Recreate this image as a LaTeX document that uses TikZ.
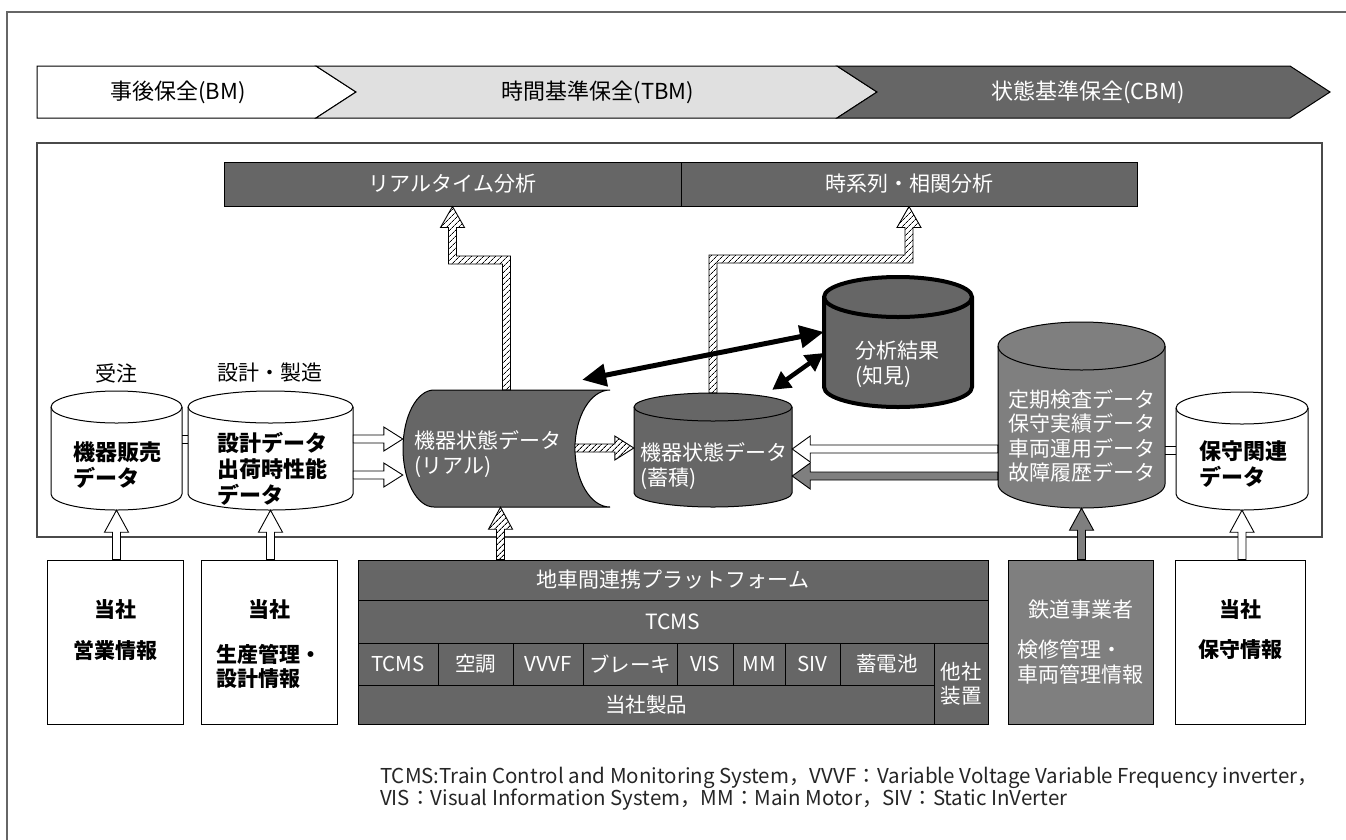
\documentclass[tikz,border=0pt]{standalone}
\usepackage{fontspec}
\setmainfont{Noto Sans CJK JP}
\usetikzlibrary{arrows.meta,patterns.meta,calc}
\definecolor{dk}{HTML}{666666}
\definecolor{md}{HTML}{7F7F7F}
\definecolor{lt}{HTML}{E0E0E0}
\definecolor{frm}{HTML}{4A4A4A}

% vertical cylinder: name, xl, xr, ytop, ybot, ry, style
\newcommand\vcyl[7]{%
  \pgfmathsetmacro\cylrx{(#3-#2)/2}%
  \path[#7] (#2,#4+#6) arc[start angle=180,end angle=0,x radius=\cylrx pt,y radius=#6 pt]
     -- (#3,#5-#6) arc[start angle=0,end angle=-180,x radius=\cylrx pt,y radius=#6 pt] -- cycle;
  \path[#7,fill=none] (#2,#4+#6) arc[start angle=180,end angle=360,x radius=\cylrx pt,y radius=#6 pt];
  \node[inner sep=0pt,minimum width={(#3-#2)*1pt},minimum height={(#5-#4)*1pt}] (#1) at ({(#2+#3)/2},{(#4+#5)/2}) {};
}
% rectangular cell: style, name, x1, y1, x2, y2, text
\newcommand\cell[7]{%
  \node[#1,inner sep=0pt,minimum width={(#5-#3)*1pt},minimum height={(#6-#4)*1pt}] (#2) at ({(#3+#5)/2},{(#4+#6)/2}) {#7};
}
% block arrow pointing up: style, from, tip
\newcommand\uarr[3]{%
  \path[#1] let \p1=(#2),\p2=(#3) in
   ({\x2-4pt},\y1) -- ({\x2-4pt},{\y2-22pt}) -- ({\x2-12pt},{\y2-22pt}) -- (\x2,\y2) -- ({\x2+12pt},{\y2-22pt}) -- ({\x2+4pt},{\y2-22pt}) -- ({\x2+4pt},\y1) -- cycle;
}
% block arrow pointing right at height y(px): style, from, tip, y
\newcommand\rarr[4]{%
  \path[#1] let \p1=(#2),\p2=(#3) in
   (\x1,{-#4pt+4pt}) -- ({\x2-19pt},{-#4pt+4pt}) -- ({\x2-19pt},{-#4pt+12pt}) -- (\x2,{-#4pt}) -- ({\x2-19pt},{-#4pt-12pt}) -- ({\x2-19pt},{-#4pt-4pt}) -- (\x1,{-#4pt-4pt}) -- cycle;
}
% block arrow pointing left
\newcommand\larr[4]{%
  \path[#1] let \p1=(#2),\p2=(#3) in
   (\x1,{-#4pt+4pt}) -- ({\x2+18pt},{-#4pt+4pt}) -- ({\x2+18pt},{-#4pt+13pt}) -- (\x2,{-#4pt}) -- ({\x2+18pt},{-#4pt-13pt}) -- ({\x2+18pt},{-#4pt-4pt}) -- (\x1,{-#4pt-4pt}) -- cycle;
}
% bent block arrow: up, sideways at y(px), up to tip: style, from, tip, y, sign
\newcommand\barr[5]{%
  \path[#1] let \p1=(#2),\p2=(#3) in
   ({\x1-(#5)*4pt},\y1) -- ({\x1-(#5)*4pt},{-#4pt+4pt}) -- ({\x2-(#5)*4pt},{-#4pt+4pt}) -- ({\x2-(#5)*4pt},{\y2-21pt})
   -- ({\x2-(#5)*12pt},{\y2-21pt}) -- (\x2,\y2) -- ({\x2+(#5)*12pt},{\y2-21pt}) -- ({\x2+(#5)*4pt},{\y2-21pt})
   -- ({\x2+(#5)*4pt},{-#4pt-4pt}) -- ({\x1+(#5)*4pt},{-#4pt-4pt}) -- ({\x1+(#5)*4pt},\y1) -- cycle;
}

\tikzset{
  ln/.style={draw=black,line width=1pt},
  dkf/.style={ln,fill=dk},
  mdf/.style={ln,fill=md},
  wf/.style={ln,fill=white},
  hatch/.style={draw=black,line width=0.9pt,preaction={fill=white},pattern={Lines[angle=45,distance=4pt,line width=0.85pt]}},
  warr/.style={draw=black,line width=0.9pt,fill=white},
  garr/.style={draw=black,line width=0.9pt,fill=md},
  wt/.style={text=white,inner sep=0pt},
  bt/.style={text=black,inner sep=0pt},
  f22/.style={font=\fontsize{22}{27}\selectfont},
  f22b/.style={font=\fontsize{22}{26}\selectfont\bfseries},
  f21/.style={font=\fontsize{21}{24.5}\selectfont},
  f21b/.style={font=\fontsize{21}{24}\selectfont\bfseries},
  f20/.style={font=\fontsize{20.5}{24}\selectfont},
  fn/.style={font=\fontsize{20.5}{22}\selectfont,text=black!85,inner sep=0pt,anchor=west},
  dbl/.style={line width=5pt,{Triangle[length=24pt,width=22pt]}-{Triangle[length=24pt,width=22pt]}},
  dbls/.style={line width=4.5pt,{Triangle[length=18pt,width=19pt]}-{Triangle[length=18pt,width=19pt]}},
}

\begin{document}
\begin{tikzpicture}[x=1pt,y=-1pt]
\useasboundingbox (0,0) rectangle (1346,839);
\fill[white] (0,0) rectangle (1346,839);
% outer frame
\draw[line width=1.5pt,draw=black!60] (7,850) -- (7,12) -- (1360,12);

% maintenance band
\path[ln,fill=white] (37,66) -- (316,66) -- (356,92) -- (316,118) -- (37,118) -- cycle;
\path[ln,fill=lt] (316,66) -- (837,66) -- (877,92) -- (837,118) -- (316,118) -- (356,92) -- cycle;
\path[ln,fill=dk] (837,66) -- (1290,66) -- (1330,92) -- (1290,118) -- (837,118) -- (877,92) -- cycle;
\node[bt,f22] (bm) at (178,92) {事後保全(BM)};
\node[bt,f22] (tbm) at (598,92) {時間基準保全(TBM)};
\node[wt,f22] (cbm) at (1088,92) {状態基準保全(CBM)};

% main frame
\cell{draw=frm,line width=1.5pt}{frame}{37}{143}{1322}{537}{}

% analysis bar
\cell{dkf,wt,f21}{rta}{224}{162}{681}{206}{リアルタイム分析}
\cell{dkf,wt,f21}{tsa}{681}{162}{1137}{206}{時系列・相関分析}

% left cylinders
\node[bt,f21] (lab1) at (116,373) {受注};
\node[bt,f21] (lab2) at (270,373) {設計・製造};
\vcyl{cyl1}{51}{182}{391}{510}{16}{wf}
\vcyl{cyl2}{188}{353}{391}{510}{16}{wf}
\node[bt,f22b,align=left,anchor=west] (t1) at (73,465) {機器販売\\データ};
\node[bt,f22b,align=left,anchor=west] (t2) at (217,469) {設計データ\\出荷時性能\\データ};
\draw[ln] let \p1=(cyl1.east),\p2=(cyl2.west) in (\x1,-435pt) -- (\x2,-435pt) (\x1,-443pt) -- (\x2,-443pt);

% real-time cylinder (lying)
\node[inner sep=0pt,minimum width=207pt,minimum height=117pt] (real) at (506.5,448.5) {};
\coordinate (realface) at (575,448);
\rarr{warr}{cyl2.east}{real.west}{439}
\rarr{warr}{cyl2.east}{real.west}{475}
\path[dkf] (434,390) -- (610,390) arc[start angle=90,end angle=270,x radius=35pt,y radius=58.5pt]
  -- (434,507) arc[start angle=270,end angle=90,x radius=31pt,y radius=58.5pt] -- cycle;
\node[wt,f21,align=left,anchor=west] (treal) at (414,454) {機器状態データ\\(リアル)};

% stored cylinder
\vcyl{stored}{634}{792}{393}{507}{14}{dkf}
\node[wt,f21,align=left,anchor=west] (tstored) at (640,466) {機器状態データ\\(蓄積)};

% analysis result cylinder
\vcyl{anal}{824}{972}{277}{407}{20}{draw=black,line width=4pt,fill=dk}
\node[wt,f21,align=left,anchor=west] (tanal) at (855,364) {分析結果\\(知見)};

% maintenance data cylinder (gray)
\vcyl{gcyl}{998}{1165}{322}{508}{24}{mdf}
\node[wt,f21,align=left,anchor=west] (tg) at (1008,436) {定期検査データ\\保守実績データ\\車両運用データ\\故障履歴データ};

% maintenance related data cylinder
\vcyl{hcyl}{1176}{1308}{392}{510}{16}{wf}
\node[bt,f22b,align=left,anchor=west] (th) at (1199,464) {保守関連\\データ};
\draw[ln] let \p1=(gcyl.east),\p2=(hcyl.west) in (\x1,-446pt) -- (\x2,-446pt) (\x1,-454pt) -- (\x2,-454pt);

% connectors in frame
\rarr{hatch}{realface}{stored.west}{448}
\larr{warr}{gcyl.west}{stored.east}{449}
\larr{garr}{gcyl.west}{stored.east}{476}
\barr{hatch}{real.north}{rta.south}{260}{-1}
\barr{hatch}{stored.north}{tsa.south}{259}{1}
\draw[dbl] ($(real.north east)+(-28,-10)$) -- ($(anal.west)+(0,-10)$);
\draw[dbls] ($(stored.north east)+(-20,-3)$) -- ($(anal.west)+(0,11)$);

% bottom boxes
\cell{wf}{box1}{47}{560}{183}{724}{}
\cell{wf}{box2}{201}{560}{337}{724}{}
\cell{mdf}{rbox}{1008}{560}{1153}{724}{}
\cell{wf}{box4}{1175}{560}{1305}{724}{}
\node[bt,f21b] (b1a) at (115,610) {当社};
\node[bt,f21b] (b1b) at (115,650) {営業情報};
\node[bt,f21b] (b2a) at (269,610) {当社};
\node[bt,f21b,align=left] (b2b) at (269,666) {生産管理・\\設計情報};
\node[wt,f21] (r1) at (1080.5,610) {鉄道事業者};
\node[wt,f21,align=left] (r2) at (1080.5,662) {検修管理・\\車両管理情報};
\node[bt,f21b] (b4a) at (1240,610) {当社};
\node[bt,f21b] (b4b) at (1240,650) {保守情報};

% platform
\cell{dkf,wt,f21}{plat}{358}{560}{988}{600}{地車間連携プラットフォーム}
\cell{dkf,wt,f21}{tcms}{358}{600}{988}{643}{TCMS}
\cell{dkf,wt,f20}{p1}{358}{643}{438}{685}{TCMS}
\cell{dkf,wt,f20}{p2}{438}{643}{513}{685}{空調}
\cell{dkf,wt,f20}{p3}{513}{643}{583}{685}{VVVF}
\cell{dkf,wt,f20}{p4}{583}{643}{677}{685}{ブレーキ}
\cell{dkf,wt,f20}{p5}{677}{643}{733}{685}{VIS}
\cell{dkf,wt,f20}{p6}{733}{643}{785}{685}{MM}
\cell{dkf,wt,f20}{p7}{785}{643}{840}{685}{SIV}
\cell{dkf,wt,f20}{p8}{840}{643}{934}{685}{蓄電池}
\cell{dkf,wt,f20}{own}{358}{685}{934}{724}{当社製品}
\cell{dkf,wt,f20,align=center}{other}{934}{643}{988}{724}{他社\\装置}

% bottom arrows
\uarr{warr}{box1.north}{cyl1.south}
\uarr{warr}{box2.north}{cyl2.south}
\uarr{hatch}{plat.north}{$(real.south)+(-6,0)$}
\uarr{garr}{rbox.north}{gcyl.south}
\uarr{warr}{box4.north}{hcyl.south}

% footnote
\node[fn] (fn1) at (380,778) {TCMS:Train Control and Monitoring System，VVVF：Variable Voltage Variable Frequency inverter，};
\node[fn] (fn2) at (380,800) {VIS：Visual Information System，MM：Main Motor，SIV：Static InVerter};
\end{tikzpicture}
\end{document}
